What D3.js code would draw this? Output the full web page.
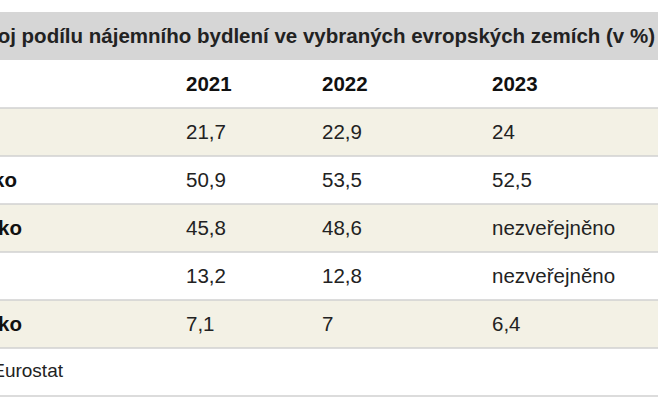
<!DOCTYPE html>
<html>
<head>
<meta charset="utf-8">
<script src="https://cdn.jsdelivr.net/npm/d3@7"></script>
<style>
  body { margin: 0; background: #fff; }
  text { font-family: "Liberation Sans", Arial, sans-serif; }
</style>
</head>
<body>
<svg id="chart" width="658" height="400"></svg>
<script>
// table data
var title = "Vývoj podílu nájemního bydlení ve vybraných evropských zemích (v %)";
var years = ["2021", "2022", "2023"];
var countries = ["Česko", "Německo", "Rakousko", "Polsko", "Slovensko"];
var v2021 = ["21,7", "50,9", "45,8", "13,2", "7,1"];
var v2022 = ["22,9", "53,5", "48,6", "12,8", "7"];
var v2023 = ["24", "52,5", "nezveřejněno", "nezveřejněno", "6,4"];
var source = "Zdroj: Eurostat";

var svg = d3.select("#chart");
var rowH = 48, top0 = 12;
var colX = [186, 322, 492];
// where each cropped label ends (table is cut off on the left)
var labelEnd = [-6, 17, 22, -6, 22];

// title band
svg.append("rect").attr("x", 0).attr("y", top0).attr("width", 658).attr("height", rowH)
  .attr("fill", "#d6d6d6");
svg.append("text").attr("x", 655).attr("y", top0 + 31).attr("text-anchor", "end")
  .attr("font-size", 20.5).attr("font-weight", "bold").attr("fill", "#222").text(title);

// header row
var hy = top0 + rowH;
svg.selectAll(".yr").data(years).join("text")
  .attr("x", (d, i) => colX[i]).attr("y", hy + 31)
  .attr("font-size", 20.5).attr("font-weight", "bold").attr("fill", "#111").text(d => d);

// body rows
var rows = countries.map((c, i) => ({ c: c, vals: [v2021[i], v2022[i], v2023[i]], i: i }));
var g = svg.selectAll(".row").data(rows).join("g")
  .attr("transform", d => `translate(0,${hy + rowH * (d.i + 1)})`);
g.append("rect").attr("width", 658).attr("height", rowH)
  .attr("fill", d => d.i % 2 === 0 ? "#f3f1e5" : "#fff");
g.append("line").attr("x1", 0).attr("x2", 658).attr("y1", 0).attr("y2", 0)
  .attr("stroke", "#d0d0d0").attr("stroke-width", 1.5);
g.append("text").attr("x", d => labelEnd[d.i]).attr("y", 31).attr("text-anchor", "end")
  .attr("font-size", 20.5).attr("font-weight", "bold").attr("fill", "#111").text(d => d.c);
g.selectAll(".v").data(d => d.vals).join("text")
  .attr("x", (d, i) => colX[i]).attr("y", 31)
  .attr("font-size", 20.5).attr("fill", "#222").text(d => d);

// footer
var fy = hy + rowH * (countries.length + 1);
svg.append("line").attr("x1", 0).attr("x2", 658).attr("y1", fy).attr("y2", fy)
  .attr("stroke", "#d0d0d0").attr("stroke-width", 1.5);
svg.append("text").attr("x", 63).attr("y", fy + 29).attr("text-anchor", "end")
  .attr("font-size", 19).attr("fill", "#222").text(source);
svg.append("line").attr("x1", 0).attr("x2", 658).attr("y1", fy + rowH).attr("y2", fy + rowH)
  .attr("stroke", "#d0d0d0").attr("stroke-width", 1.5);
</script>
</body>
</html>
